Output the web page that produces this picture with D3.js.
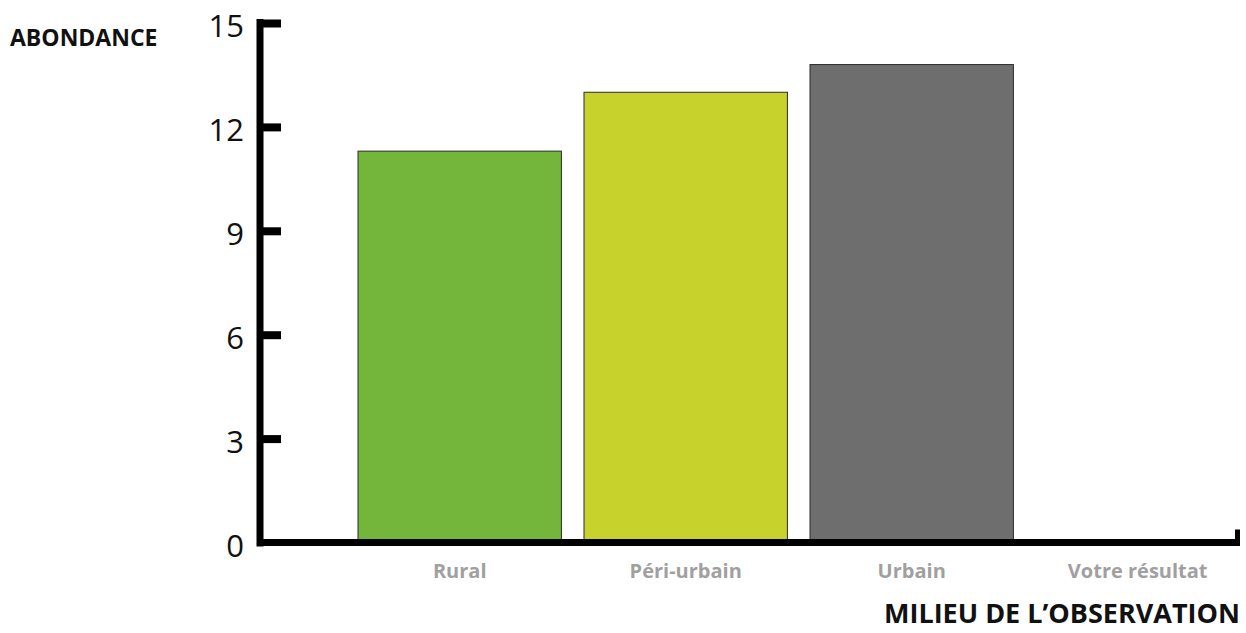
<!DOCTYPE html>
<html><head><meta charset="utf-8">
<script src="https://cdn.jsdelivr.net/npm/d3@7"></script>
<style>body{margin:0;background:#fff}svg{display:block}</style>
</head><body>
<svg id="c" width="1246" height="633"></svg>
<script>
const categories = ["Rural", "Péri-urbain", "Urbain", "Votre résultat"];
const values = [11.3, 13.0, 13.8, 0];
const colors = ["#74b63b", "#c7d22d", "#6e6e6e", "#ffffff"];
const yTicks = [0, 3, 6, 9, 12, 15];
const yTitle = "ABONDANCE";
const xTitle = "MILIEU DE L\u2019OBSERVATION";

const svg = d3.select("#c");
const font = "'Open Sans', 'Noto Sans', sans-serif";
const y = d3.scaleLinear().domain([0, 15]).range([542.5, 23]);
const x = d3.scaleBand().domain(categories).range([346.7, 1250.7]).paddingInner(0.1).paddingOuter(0.05);

// bars
svg.selectAll("rect.bar").data(categories.filter((c,i)=>values[i]>0)).enter().append("rect")
  .attr("class","bar")
  .attr("x", d => x(d))
  .attr("width", x.bandwidth())
  .attr("y", d => y(values[categories.indexOf(d)]))
  .attr("height", d => y(0) - y(values[categories.indexOf(d)]))
  .attr("fill", d => colors[categories.indexOf(d)])
  .attr("stroke", "#2b2b2b").attr("stroke-width", 1);

// y axis
const yAxis = d3.axisRight(y).tickValues(yTicks).tickSize(21).tickFormat("");
const gy = svg.append("g").attr("transform","translate(260,0)").call(yAxis);
gy.select(".domain").remove();
gy.selectAll(".tick line").attr("stroke","#000").attr("stroke-width",8);
gy.selectAll(".tick").filter(d => d === 0).remove();
svg.append("line").attr("x1",260).attr("x2",260).attr("y1",y(15)-4).attr("y2",y(0)+4)
  .attr("stroke","#000").attr("stroke-width",7);
svg.selectAll("text.ylab").data(yTicks).enter().append("text")
  .attr("class","ylab")
  .attr("x", 244).attr("y", d => y(d) + 14)
  .attr("text-anchor","end")
  .attr("font-family", font).attr("font-size", 31).attr("fill","#111")
  .text(d => d);

// x axis
svg.append("line").attr("x1",260).attr("x2",1240).attr("y1",y(0)).attr("y2",y(0))
  .attr("stroke","#000").attr("stroke-width",7);
svg.append("line").attr("x1",1237.5).attr("x2",1237.5).attr("y1",y(0)+3).attr("y2",y(0)-13)
  .attr("stroke","#000").attr("stroke-width",5);
const xAxis = d3.axisBottom(x).tickSize(0).tickPadding(0);
const gx = svg.append("g").attr("transform","translate(0,578)").call(xAxis);
gx.select(".domain").remove();
gx.selectAll("text").attr("font-family", font).attr("font-weight",700).attr("font-size",20)
  .attr("fill","#a0a0a0").attr("dy", 0);

// titles
svg.append("text").attr("x",10).attr("y",46).attr("font-family",font).attr("font-weight",700)
  .attr("font-size",23).attr("fill","#111").text(yTitle);
svg.append("text").attr("x",1240).attr("y",623).attr("text-anchor","end").attr("font-family",font)
  .attr("font-weight",700).attr("font-size",27).attr("fill","#111").text(xTitle);
</script>
</body></html>
